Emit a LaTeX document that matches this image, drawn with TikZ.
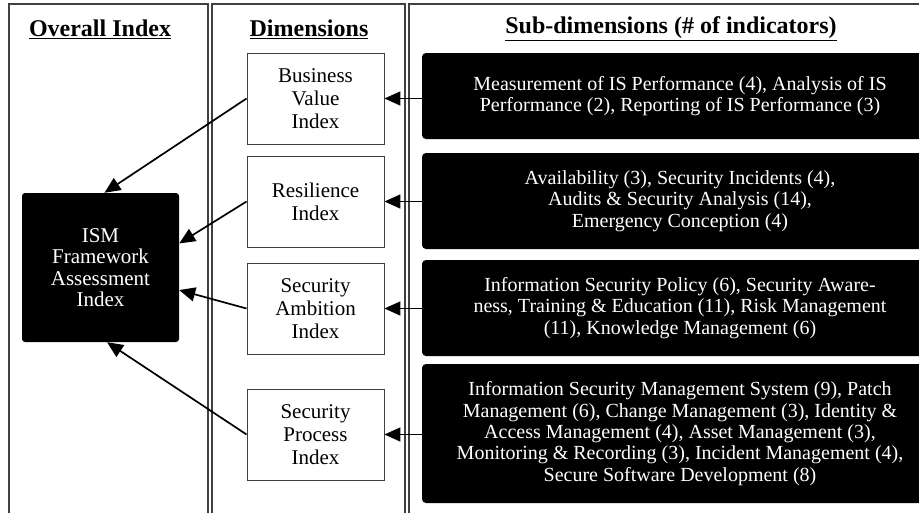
\documentclass[tikz,border=0pt]{standalone}
\usepackage{fontspec}
\setmainfont{Liberation Serif}
\usetikzlibrary{arrows.meta}
\begin{document}
\begin{tikzpicture}[x=1pt,y=-1pt,
    colline/.style={line width=1.2pt,draw=black!75},
    heading/.style={font=\fontsize{24}{28}\selectfont\bfseries},
    dimbox/.style={draw=black!75,line width=0.9pt,fill=white,minimum width=137pt,
        minimum height=91pt,align=center,inner sep=0pt,font=\fontsize{21}{23.3}\selectfont},
    subbox/.style={fill=black,text=white,rounded corners=4pt,minimum width=516pt,
        align=center,inner sep=0pt,font=\fontsize{20}{21.3}\selectfont},
    arr/.style={-{Triangle[length=16pt,width=14pt]},line width=1.7pt}]

    \useasboundingbox (0,0) rectangle (919,512);
    \clip (0,0) rectangle (919,512);

    % columnes
    \foreach \a/\b in {9/208,212/405,409/940}
        \draw[colline] (\a,530) -- (\a,4) -- (\b,4) -- (\b,530);

    \node[heading] (hoverall) at (100,29) {\underline{Overall Index}};
    \node[heading] (hdim) at (309,29) {\underline{Dimensions}};
    \node[heading] (hsub) at (671,29) {\underline{Sub-dimensions (\# of indicators)}};

    \node[fill=black,text=white,rounded corners=3pt,minimum width=157pt,minimum height=149pt,
        align=center,inner sep=0pt,font=\fontsize{21}{21.5}\selectfont]
        (ism) at (100.5,267.5) {ISM\\Framework\\Assessment\\Index};

    \node[dimbox] (bv) at (315.5,98.5) {Business\\Value\\Index};
    \node[dimbox] (res) at (315.5,201.5) {Resilience\\Index};
    \node[dimbox] (sa) at (315.5,308.5) {Security\\Ambition\\Index};
    \node[dimbox] (sp) at (315.5,434.5) {Security\\Process\\Index};

    \node[subbox,minimum height=86pt] (sub1) at (680,96)
        {Measurement of IS Performance (4), Analysis of IS\\
         Performance (2), Reporting of IS Performance (3)};
    \node[subbox,minimum height=96pt] (sub2) at (680,201)
        {Availability (3), Security Incidents (4),\\
         Audits \& Security Analysis (14),\\
         Emergency Conception (4)};
    \node[subbox,minimum height=96pt] (sub3) at (680,308)
        {Information Security Policy (6), Security Aware-\\
         ness, Training \& Education (11), Risk Management\\
         (11), Knowledge Management (6)};
    \node[subbox,minimum height=139pt] (sub4) at (680,433.5)
        {Information Security Management System (9), Patch\\
         Management (6), Change Management (3), Identity \&\\
         Access Management (4), Asset Management (3),\\
         Monitoring \& Recording (3), Incident Management (4),\\
         Secure Software Development (8)};

    % fletxes
    \foreach \s/\d in {sub1/bv,sub2/res,sub3/sa,sub4/sp}
        \draw[arr] (\s.west |- \d.east) -- (\d.east);

    \draw[arr] (bv.west) -- (ism.87);
    \draw[arr] (res.west) -- (ism.17);
    \draw[arr] (sa.west) -- (ism.-16);
    \draw[arr] (sp.west) -- (ism.-85);
\end{tikzpicture}
\end{document}
